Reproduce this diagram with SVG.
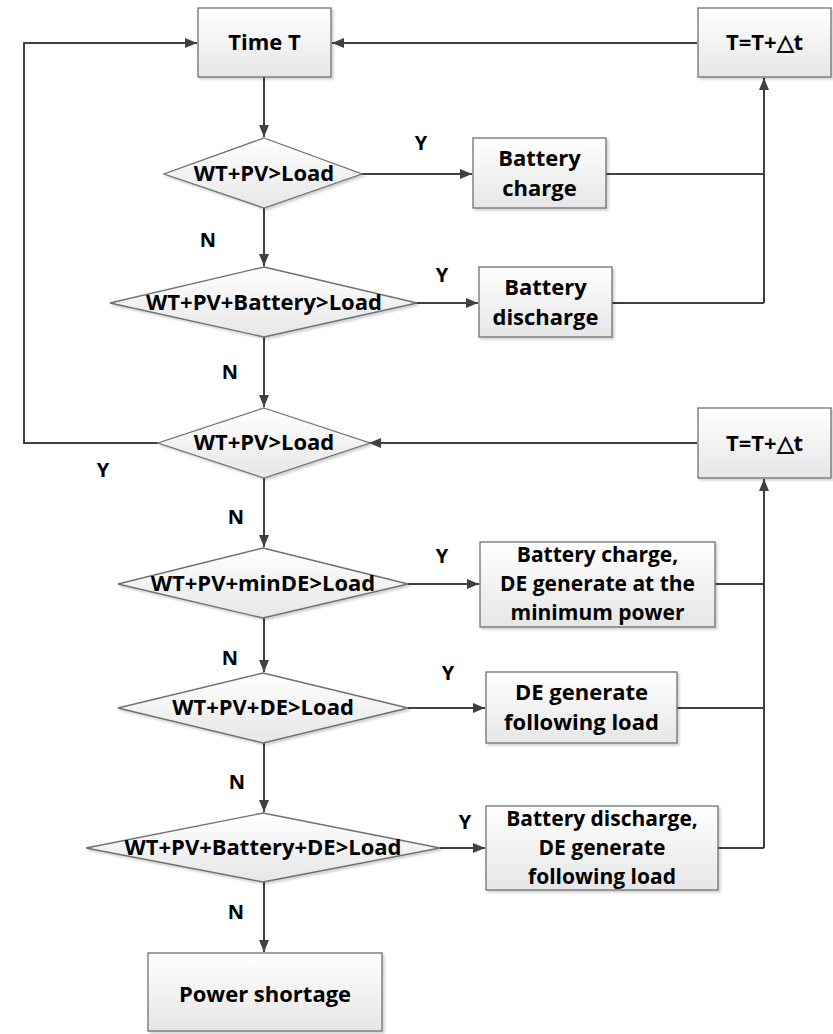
<svg xmlns="http://www.w3.org/2000/svg" width="833" height="1034" viewBox="0 0 833 1034">
<defs>
<linearGradient id="g" x1="0" y1="0" x2="0" y2="1">
<stop offset="0" stop-color="#ffffff"/>
<stop offset="1" stop-color="#e6e6e6"/>
</linearGradient>
<filter id="sh" x="-10%" y="-10%" width="130%" height="130%">
<feDropShadow dx="2" dy="2" stdDeviation="1.2" flood-color="#000" flood-opacity="0.18"/>
</filter>
<marker id="ah" markerWidth="12" markerHeight="10" refX="12" refY="5" orient="auto" markerUnits="userSpaceOnUse">
<path d="M0,0 L12,5 L0,10 Z" fill="#404040"/>
</marker>
</defs>
<style>
.box{fill:url(#g);stroke:#707070;stroke-width:1.3;filter:url(#sh)}
.dia{fill:url(#g);stroke:#707070;stroke-width:1.3;filter:url(#sh)}
.t{font-family:"Open Sans","Liberation Sans",sans-serif;font-weight:bold;font-size:22px;fill:#000;text-anchor:middle}
.t3{font-size:21px}
.lbl{font-family:"Open Sans","Liberation Sans",sans-serif;font-weight:bold;font-size:20px;fill:#000;text-anchor:middle}
.c{fill:none;stroke:#404040;stroke-width:2}
.ca{fill:none;stroke:#404040;stroke-width:2;marker-end:url(#ah)}
</style>
<rect width="833" height="1034" fill="#fff"/>
<g id="connectors">
<path class="ca" d="M264,77 V137"/>
<path class="ca" d="M697,43 H332"/>
<path class="ca" d="M362,174 H472"/>
<path class="c" d="M606,174 H764"/>
<path class="c" d="M612,303 H764"/>
<path class="ca" d="M764,303 V78"/>
<path class="ca" d="M264,208 V266"/>
<path class="ca" d="M416,303 H478"/>
<path class="ca" d="M264,337 V407"/>
<path class="ca" d="M158,443 H24 V43 H197"/>
<path class="ca" d="M697,443 H369"/>
<path class="ca" d="M264,478 V547"/>
<path class="ca" d="M408,584 H479"/>
<path class="c" d="M715,584 H764"/>
<path class="ca" d="M264,618 V672"/>
<path class="ca" d="M408,708 H485"/>
<path class="c" d="M677,708 H764"/>
<path class="ca" d="M264,743 V812"/>
<path class="ca" d="M440,848 H485"/>
<path class="c" d="M718,848 H764"/>
<path class="ca" d="M764,848 V479"/>
<path class="ca" d="M264,882 V952"/>
</g>
<g id="labels">
<text class="lbl" x="421" y="150">Y</text>
<text class="lbl" x="208" y="247">N</text>
<text class="lbl" x="442" y="282">Y</text>
<text class="lbl" x="230" y="379">N</text>
<text class="lbl" x="103" y="477">Y</text>
<text class="lbl" x="236" y="524">N</text>
<text class="lbl" x="442" y="563">Y</text>
<text class="lbl" x="230" y="665">N</text>
<text class="lbl" x="448" y="680">Y</text>
<text class="lbl" x="237" y="789">N</text>
<text class="lbl" x="465" y="829">Y</text>
<text class="lbl" x="236" y="919">N</text>
</g>
<g id="timeT">
<rect class="box" x="198" y="8" width="133" height="69"/>
<text class="t" x="264.5" y="50">Time T</text>
</g>
<g id="step1">
<rect class="box" x="698" y="8" width="133" height="69"/>
<text class="t" x="764.5" y="50">T=T+△t</text>
</g>
<g id="d1">
<polygon class="dia" points="264,138 362,174 264,208 164,174"/>
<text class="t" x="264" y="181">WT+PV&gt;Load</text>
</g>
<g id="bcharge">
<rect class="box" x="473" y="138" width="133" height="70"/>
<text class="t" x="539.5" y="166">Battery</text>
<text class="t" x="539.5" y="196">charge</text>
</g>
<g id="d2">
<polygon class="dia" points="264,267 417,303 264,337 110,303"/>
<text class="t" x="264" y="310">WT+PV+Battery&gt;Load</text>
</g>
<g id="bdischarge">
<rect class="box" x="479" y="267" width="133" height="70"/>
<text class="t" x="545.5" y="295">Battery</text>
<text class="t" x="545.5" y="325">discharge</text>
</g>
<g id="d3">
<polygon class="dia" points="264,408 370,443 264,478 158,443"/>
<text class="t" x="264" y="450">WT+PV&gt;Load</text>
</g>
<g id="step2">
<rect class="box" x="698" y="408" width="133" height="70"/>
<text class="t" x="764.5" y="451">T=T+△t</text>
</g>
<g id="d4">
<polygon class="dia" points="263,548 408,584 263,618 118,584"/>
<text class="t" x="263" y="591">WT+PV+minDE&gt;Load</text>
</g>
<g id="bcde">
<rect class="box" x="480" y="542" width="235" height="85"/>
<text class="t t3" x="597.5" y="562">Battery charge,</text>
<text class="t t3" x="597.5" y="591">DE generate at the</text>
<text class="t t3" x="597.5" y="620">minimum power</text>
</g>
<g id="d5">
<polygon class="dia" points="263,673 408,708 263,743 118,708"/>
<text class="t" x="263" y="715">WT+PV+DE&gt;Load</text>
</g>
<g id="defl">
<rect class="box" x="486" y="672" width="191" height="71"/>
<text class="t" x="581.5" y="700">DE generate</text>
<text class="t" x="581.5" y="730">following load</text>
</g>
<g id="d6">
<polygon class="dia" points="263,813 440,848 263,882 86,848"/>
<text class="t" x="263" y="855">WT+PV+Battery+DE&gt;Load</text>
</g>
<g id="bdde">
<rect class="box" x="486" y="806" width="232" height="84"/>
<text class="t t3" x="602" y="826">Battery discharge,</text>
<text class="t t3" x="602" y="855">DE generate</text>
<text class="t t3" x="602" y="884">following load</text>
</g>
<g id="shortage">
<rect class="box" x="148" y="953" width="234" height="78"/>
<text class="t" x="265" y="1002">Power shortage</text>
</g>
</svg>
